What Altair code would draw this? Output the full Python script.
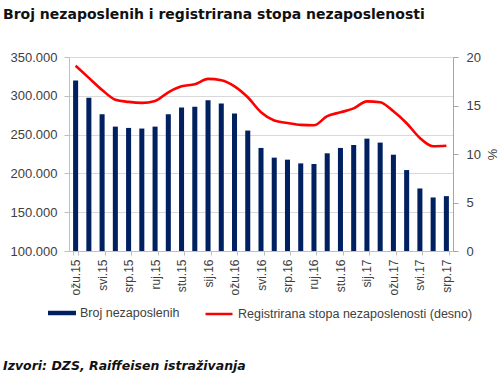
import altair as alt
import pandas as pd

months = ["ožu.15", "tra.15", "svi.15", "lip.15", "srp.15", "kol.15", "ruj.15", "lis.15",
          "stu.15", "pro.15", "sij.16", "velj.16", "ožu.16", "tra.16", "svi.16", "lip.16",
          "srp.16", "kol.16", "ruj.16", "lis.16", "stu.16", "pro.16", "sij.17", "velj.17",
          "ožu.17", "tra.17", "svi.17", "lip.17", "srp.17"]
unemployed = [319800, 297400, 276300, 260300, 258600, 257800, 260300, 276300,
              284900, 285800, 294400, 290100, 277200, 255200, 232800, 220300,
              217700, 212900, 212100, 225900, 232800, 236600, 244800, 239700,
              224100, 204300, 180600, 169000, 170700]
rate = [19.1, 17.85, 16.6, 15.6, 15.37, 15.27, 15.47, 16.36,
        16.98, 17.18, 17.74, 17.6, 16.98, 15.85, 14.3, 13.45,
        13.2, 13.0, 12.96, 13.9, 14.3, 14.7, 15.43, 15.33,
        14.4, 13.17, 11.66, 10.8, 10.85]
shown_labels = months[::2]
left_ticks = [100000, 150000, 200000, 250000, 300000, 350000]
right_ticks = [0, 5, 10, 15, 20]
series_bar = "Broj nezaposlenih"
series_line = "Registrirana stopa nezaposlenosti (desno)"
title_text = "Broj nezaposlenih i registrirana stopa nezaposlenosti"
footer_text = "Izvori: DZS, Raiffeisen istraživanja"

df = pd.DataFrame({"mjesec": months, "broj": unemployed, "stopa": rate,
                   "s1": series_bar, "s2": series_line})

FONT = "Liberation Sans"
TXT = "#404040"
AXC = "#BFBFBF"

x_enc = alt.X("mjesec:N", sort=months,
              scale=alt.Scale(paddingInner=0.62, paddingOuter=0.31),
              axis=alt.Axis(values=shown_labels, labelAngle=-90, title=None,
                            labelFont=FONT, labelFontSize=12, labelColor=TXT,
                            domainColor=AXC, tickColor=AXC, tickBand="extent",
                            tickSize=4, labelPadding=4, grid=False))

bars = alt.Chart(df).mark_bar().encode(
    x=x_enc,
    y=alt.Y("broj:Q", scale=alt.Scale(domain=[100000, 350000], nice=False, zero=False),
            axis=alt.Axis(values=left_ticks, orient="left", title=None,
                          labelExpr="replace(format(datum.value, ',.0f'), ',', '.')",
                          labelFont=FONT, labelFontSize=13, labelColor=TXT,
                          grid=True, gridColor="#D9D9D9", domainColor=AXC,
                          tickColor=AXC, tickSize=5, labelPadding=7)),
    y2=alt.datum(100000),
    color=alt.Color("s1:N", scale=alt.Scale(range=["#002060"]),
                    legend=alt.Legend(title=None, orient="none", legendX=-21, legendY=242,
                                      symbolType="M-1,-0.16H1V0.16H-1Z", symbolSize=784,
                                      symbolStrokeWidth=0, labelFont=FONT, labelFontSize=12.5,
                                      labelColor=TXT, labelOffset=4, padding=0,
                                      labelLimit=400)),
)

line = alt.Chart(df).mark_line(strokeWidth=2.6, interpolate="monotone").encode(
    x=x_enc,
    y=alt.Y("stopa:Q", scale=alt.Scale(domain=[0, 20], nice=False),
            axis=alt.Axis(values=right_ticks, orient="right", title="%",
                          titleFont=FONT, titleFontSize=13, titleColor=TXT,
                          titleFontWeight="normal", titlePadding=4,
                          labelFont=FONT, labelFontSize=13, labelColor=TXT,
                          grid=False, domainColor="#A6A6A6", tickColor="#A6A6A6",
                          tickSize=5, labelPadding=8)),
    color=alt.Color("s2:N", scale=alt.Scale(range=["#FF0000"]),
                    legend=alt.Legend(title=None, orient="none", legendX=135, legendY=242,
                                      symbolType="stroke", symbolSize=729,
                                      symbolStrokeWidth=2.5, labelFont=FONT,
                                      labelFontSize=12.5, labelColor=TXT,
                                      labelOffset=4, padding=0, labelLimit=400)),
)

footer = alt.Chart(pd.DataFrame({"t": [footer_text]})).mark_text(
    align="left", baseline="alphabetic", font="DejaVu Sans", fontSize=12.5,
    fontWeight="bold", fontStyle="italic", color="#111111"
).encode(x=alt.value(-66), y=alt.value(313), text="t:N")

chart = alt.layer(bars, line, footer).resolve_scale(
    y="independent", color="independent"
).properties(
    width=384, height=194,
    title=alt.TitleParams(title_text, anchor="start", frame="group", dx=-66,
                          offset=18, font="DejaVu Sans", fontSize=14, fontWeight="bold",
                          color="#111111", baseline="alphabetic"),
    autosize=alt.AutoSizeParams(type="none"),
    padding={"left": 69, "top": 57, "right": 47, "bottom": 125},
).configure_view(stroke=None)

chart.save("out.html", embed_options={"renderer": "svg", "actions": False})
